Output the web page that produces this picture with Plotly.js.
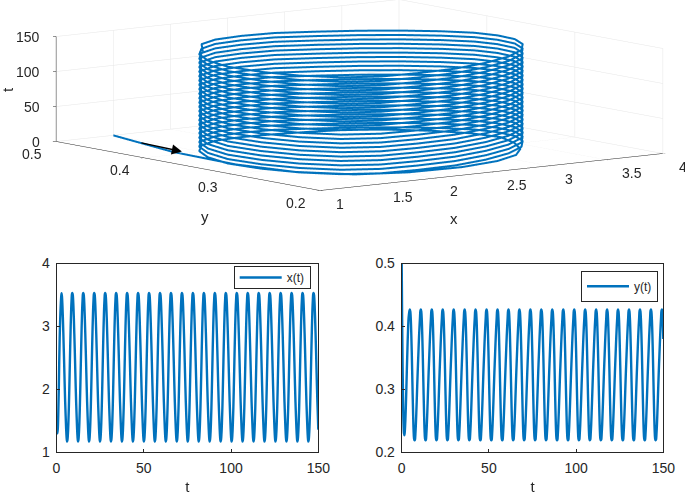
<!DOCTYPE html>
<html><head><meta charset="utf-8">
<script src="https://cdn.plot.ly/plotly-3.0.1.min.js"></script>
<style>html,body{margin:0;padding:0;background:#fff}#c{width:685px;height:495px}</style></head>
<body><div id="c"></div>
<script>
const xTicks3d=[1,1.5,2,2.5,3,3.5,4];
const yTicks3d=[0.2,0.3,0.4,0.5];
const tTicks3d=[0,50,100,150];
const tTicks=[0,50,100,150];
const xTicks=[1,2,3,4];
const yTicks=[0.2,0.3,0.4,0.5];
const t=[
0,.26,.52,.79,1.05,1.31,1.57,1.83,2.09,2.36,2.62,2.88,3.14,3.40,3.67,3.93,4.19,4.45,4.71,4.97,5.24,5.50,5.76,6.02,
6.28,6.54,6.80,7.07,7.33,7.59,7.85,8.11,8.37,8.64,8.90,9.16,9.42,9.68,9.95,10.21,10.47,10.73,10.99,11.25,11.52,11.78,12.04,12.30,
12.57,12.83,13.09,13.36,13.62,13.88,14.14,14.40,14.66,14.93,15.19,15.45,15.71,15.97,16.24,16.50,16.76,17.02,17.28,17.54,17.81,18.07,18.33,18.59,
18.85,19.11,19.37,19.64,19.90,20.16,20.42,20.68,20.94,21.21,21.47,21.73,21.99,22.25,22.52,22.78,23.04,23.30,23.56,23.82,24.09,24.35,24.61,24.87,
25.13,25.39,25.65,25.92,26.18,26.44,26.70,26.96,27.22,27.49,27.75,28.01,28.27,28.53,28.80,29.06,29.32,29.58,29.84,30.10,30.37,30.63,30.89,31.15,
31.42,31.68,31.94,32.21,32.47,32.73,32.99,33.25,33.51,33.78,34.04,34.30,34.56,34.82,35.09,35.35,35.61,35.87,36.13,36.39,36.66,36.92,37.18,37.44,
37.70,37.96,38.22,38.49,38.75,39.01,39.27,39.53,39.79,40.06,40.32,40.58,40.84,41.10,41.37,41.63,41.89,42.15,42.41,42.67,42.94,43.20,43.46,43.72,
43.98,44.24,44.50,44.77,45.03,45.29,45.55,45.81,46.07,46.34,46.60,46.86,47.12,47.38,47.65,47.91,48.17,48.43,48.69,48.95,49.22,49.48,49.74,50.00,
50.27,50.53,50.79,51.06,51.32,51.58,51.84,52.10,52.36,52.63,52.89,53.15,53.41,53.67,53.94,54.20,54.46,54.72,54.98,55.24,55.51,55.77,56.03,56.29,
56.55,56.81,57.07,57.34,57.60,57.86,58.12,58.38,58.64,58.91,59.17,59.43,59.69,59.95,60.22,60.48,60.74,61.00,61.26,61.52,61.79,62.05,62.31,62.57,
62.83,63.09,63.35,63.62,63.88,64.14,64.40,64.66,64.92,65.19,65.45,65.71,65.97,66.23,66.50,66.76,67.02,67.28,67.54,67.80,68.07,68.33,68.59,68.85,
69.12,69.38,69.64,69.91,70.17,70.43,70.69,70.95,71.21,71.48,71.74,72.00,72.26,72.52,72.79,73.05,73.31,73.57,73.83,74.09,74.36,74.62,74.88,75.14,
75.40,75.66,75.92,76.19,76.45,76.71,76.97,77.23,77.49,77.76,78.02,78.28,78.54,78.80,79.07,79.33,79.59,79.85,80.11,80.37,80.64,80.90,81.16,81.42,
81.68,81.94,82.20,82.47,82.73,82.99,83.25,83.51,83.77,84.04,84.30,84.56,84.82,85.08,85.35,85.61,85.87,86.13,86.39,86.65,86.92,87.18,87.44,87.70,
87.96,88.22,88.48,88.75,89.01,89.27,89.53,89.79,90.05,90.32,90.58,90.84,91.10,91.36,91.63,91.89,92.15,92.41,92.67,92.93,93.20,93.46,93.72,93.98,
94.25,94.51,94.77,95.04,95.30,95.56,95.82,96.08,96.34,96.61,96.87,97.13,97.39,97.65,97.92,98.18,98.44,98.70,98.96,99.22,99.49,99.75,100.01,100.27,
100.53,100.79,101.05,101.32,101.58,101.84,102.10,102.36,102.62,102.89,103.15,103.41,103.67,103.93,104.20,104.46,104.72,104.98,105.24,105.50,105.77,106.03,106.29,106.55,
106.81,107.07,107.33,107.60,107.86,108.12,108.38,108.64,108.90,109.17,109.43,109.69,109.95,110.21,110.48,110.74,111.00,111.26,111.52,111.78,112.05,112.31,112.57,112.83,
113.10,113.36,113.62,113.89,114.15,114.41,114.67,114.93,115.19,115.46,115.72,115.98,116.24,116.50,116.77,117.03,117.29,117.55,117.81,118.07,118.34,118.60,118.86,119.12,
119.38,119.64,119.90,120.17,120.43,120.69,120.95,121.21,121.47,121.74,122.00,122.26,122.52,122.78,123.05,123.31,123.57,123.83,124.09,124.35,124.62,124.88,125.14,125.40,
125.66,125.92,126.18,126.45,126.71,126.97,127.23,127.49,127.75,128.02,128.28,128.54,128.80,129.06,129.33,129.59,129.85,130.11,130.37,130.63,130.90,131.16,131.42,131.68,
131.95,132.21,132.47,132.74,133.00,133.26,133.52,133.78,134.04,134.31,134.57,134.83,135.09,135.35,135.62,135.88,136.14,136.40,136.66,136.92,137.19,137.45,137.71,137.97,
138.23,138.49,138.75,139.02,139.28,139.54,139.80,140.06,140.32,140.59,140.85,141.11,141.37,141.63,141.90,142.16,142.42,142.68,142.94,143.20,143.47,143.73,143.99,144.25,
144.51,144.77,145.03,145.30,145.56,145.82,146.08,146.34,146.60,146.87,147.13,147.39,147.65,147.91,148.18,148.44,148.70,148.96,149.22,149.48,149.75,150.00];
const xs=[1.50,1.33,1.30,1.40,1.65,2.00,2.45,2.82,3.10,3.30,3.44,
3.53,3.475,3.33,3.12,2.88,2.62,2.335,2.055,1.80,1.58,1.39,1.25,1.17,1.195,1.29,1.46,1.70,2.00,2.335,2.675,2.98,3.24,3.42,3.52,
3.53,3.475,3.33,3.12,2.88,2.62,2.335,2.055,1.80,1.58,1.39,1.25,1.17,1.195,1.29,1.46,1.70,2.00,2.335,2.675,2.98,3.24,3.42,3.52,
3.53,3.475,3.33,3.12,2.88,2.62,2.335,2.055,1.80,1.58,1.39,1.25,1.17,1.195,1.29,1.46,1.70,2.00,2.335,2.675,2.98,3.24,3.42,3.52,
3.53,3.475,3.33,3.12,2.88,2.62,2.335,2.055,1.80,1.58,1.39,1.25,1.17,1.195,1.29,1.46,1.70,2.00,2.335,2.675,2.98,3.24,3.42,3.52,
3.53,3.475,3.33,3.12,2.88,2.62,2.335,2.055,1.80,1.58,1.39,1.25,1.17,1.195,1.29,1.46,1.70,2.00,2.335,2.675,2.98,3.24,3.42,3.52,
3.53,3.475,3.33,3.12,2.88,2.62,2.335,2.055,1.80,1.58,1.39,1.25,1.17,1.195,1.29,1.46,1.70,2.00,2.335,2.675,2.98,3.24,3.42,3.52,
3.53,3.475,3.33,3.12,2.88,2.62,2.335,2.055,1.80,1.58,1.39,1.25,1.17,1.195,1.29,1.46,1.70,2.00,2.335,2.675,2.98,3.24,3.42,3.52,
3.53,3.475,3.33,3.12,2.88,2.62,2.335,2.055,1.80,1.58,1.39,1.25,1.17,1.195,1.29,1.46,1.70,2.00,2.335,2.675,2.98,3.24,3.42,3.52,
3.53,3.475,3.33,3.12,2.88,2.62,2.335,2.055,1.80,1.58,1.39,1.25,1.17,1.195,1.29,1.46,1.70,2.00,2.335,2.675,2.98,3.24,3.42,3.52,
3.53,3.475,3.33,3.12,2.88,2.62,2.335,2.055,1.80,1.58,1.39,1.25,1.17,1.195,1.29,1.46,1.70,2.00,2.335,2.675,2.98,3.24,3.42,3.52,
3.53,3.475,3.33,3.12,2.88,2.62,2.335,2.055,1.80,1.58,1.39,1.25,1.17,1.195,1.29,1.46,1.70,2.00,2.335,2.675,2.98,3.24,3.42,3.52,
3.53,3.475,3.33,3.12,2.88,2.62,2.335,2.055,1.80,1.58,1.39,1.25,1.17,1.195,1.29,1.46,1.70,2.00,2.335,2.675,2.98,3.24,3.42,3.52,
3.53,3.475,3.33,3.12,2.88,2.62,2.335,2.055,1.80,1.58,1.39,1.25,1.17,1.195,1.29,1.46,1.70,2.00,2.335,2.675,2.98,3.24,3.42,3.52,
3.53,3.475,3.33,3.12,2.88,2.62,2.335,2.055,1.80,1.58,1.39,1.25,1.17,1.195,1.29,1.46,1.70,2.00,2.335,2.675,2.98,3.24,3.42,3.52,
3.53,3.475,3.33,3.12,2.88,2.62,2.335,2.055,1.80,1.58,1.39,1.25,1.17,1.195,1.29,1.46,1.70,2.00,2.335,2.675,2.98,3.24,3.42,3.52,
3.53,3.475,3.33,3.12,2.88,2.62,2.335,2.055,1.80,1.58,1.39,1.25,1.17,1.195,1.29,1.46,1.70,2.00,2.335,2.675,2.98,3.24,3.42,3.52,
3.53,3.475,3.33,3.12,2.88,2.62,2.335,2.055,1.80,1.58,1.39,1.25,1.17,1.195,1.29,1.46,1.70,2.00,2.335,2.675,2.98,3.24,3.42,3.52,
3.53,3.475,3.33,3.12,2.88,2.62,2.335,2.055,1.80,1.58,1.39,1.25,1.17,1.195,1.29,1.46,1.70,2.00,2.335,2.675,2.98,3.24,3.42,3.52,
3.53,3.475,3.33,3.12,2.88,2.62,2.335,2.055,1.80,1.58,1.39,1.25,1.17,1.195,1.29,1.46,1.70,2.00,2.335,2.675,2.98,3.24,3.42,3.52,
3.53,3.475,3.33,3.12,2.88,2.62,2.335,2.055,1.80,1.58,1.39,1.25,1.17,1.195,1.29,1.46,1.70,2.00,2.335,2.675,2.98,3.24,3.42,3.52,
3.53,3.475,3.33,3.12,2.88,2.62,2.335,2.055,1.80,1.58,1.39,1.25,1.17,1.195,1.29,1.46,1.70,2.00,2.335,2.675,2.98,3.24,3.42,3.52,
3.53,3.475,3.33,3.12,2.88,2.62,2.335,2.055,1.80,1.58,1.39,1.25,1.17,1.195,1.29,1.46,1.70,2.00,2.335,2.675,2.98,3.24,3.42,3.52,
3.53,3.475,3.33,3.12,2.88,2.62,2.335,2.055,1.80,1.58,1.39,1.25,1.17,1.195,1.29,1.46,1.70,2.00,2.335,2.675,2.98,3.24,3.42,3.52,
3.53,3.475,3.33,3.12,2.88,2.62,2.335,2.055,1.80,1.58,1.36];
const ys=[.5,.41,.335,.28,.245,.23,.227,.235,.25,.271,.296,.323,.35,.375,.397,.413,.42,
.425,.427,.423,.41,.388,.36,.327,.292,.261,.236,.222,.219,.22,.229,.243,.262,.284,.306,.327,.346,.365,.384,.4,.413,
.425,.427,.423,.41,.388,.36,.327,.292,.261,.236,.222,.219,.22,.229,.243,.262,.284,.306,.327,.346,.365,.384,.4,.413,
.425,.427,.423,.41,.388,.36,.327,.292,.261,.236,.222,.219,.22,.229,.243,.262,.284,.306,.327,.346,.365,.384,.4,.413,
.425,.427,.423,.41,.388,.36,.327,.292,.261,.236,.222,.219,.22,.229,.243,.262,.284,.306,.327,.346,.365,.384,.4,.413,
.425,.427,.423,.41,.388,.36,.327,.292,.261,.236,.222,.219,.22,.229,.243,.262,.284,.306,.327,.346,.365,.384,.4,.413,
.425,.427,.423,.41,.388,.36,.327,.292,.261,.236,.222,.219,.22,.229,.243,.262,.284,.306,.327,.346,.365,.384,.4,.413,
.425,.427,.423,.41,.388,.36,.327,.292,.261,.236,.222,.219,.22,.229,.243,.262,.284,.306,.327,.346,.365,.384,.4,.413,
.425,.427,.423,.41,.388,.36,.327,.292,.261,.236,.222,.219,.22,.229,.243,.262,.284,.306,.327,.346,.365,.384,.4,.413,
.425,.427,.423,.41,.388,.36,.327,.292,.261,.236,.222,.219,.22,.229,.243,.262,.284,.306,.327,.346,.365,.384,.4,.413,
.425,.427,.423,.41,.388,.36,.327,.292,.261,.236,.222,.219,.22,.229,.243,.262,.284,.306,.327,.346,.365,.384,.4,.413,
.425,.427,.423,.41,.388,.36,.327,.292,.261,.236,.222,.219,.22,.229,.243,.262,.284,.306,.327,.346,.365,.384,.4,.413,
.425,.427,.423,.41,.388,.36,.327,.292,.261,.236,.222,.219,.22,.229,.243,.262,.284,.306,.327,.346,.365,.384,.4,.413,
.425,.427,.423,.41,.388,.36,.327,.292,.261,.236,.222,.219,.22,.229,.243,.262,.284,.306,.327,.346,.365,.384,.4,.413,
.425,.427,.423,.41,.388,.36,.327,.292,.261,.236,.222,.219,.22,.229,.243,.262,.284,.306,.327,.346,.365,.384,.4,.413,
.425,.427,.423,.41,.388,.36,.327,.292,.261,.236,.222,.219,.22,.229,.243,.262,.284,.306,.327,.346,.365,.384,.4,.413,
.425,.427,.423,.41,.388,.36,.327,.292,.261,.236,.222,.219,.22,.229,.243,.262,.284,.306,.327,.346,.365,.384,.4,.413,
.425,.427,.423,.41,.388,.36,.327,.292,.261,.236,.222,.219,.22,.229,.243,.262,.284,.306,.327,.346,.365,.384,.4,.413,
.425,.427,.423,.41,.388,.36,.327,.292,.261,.236,.222,.219,.22,.229,.243,.262,.284,.306,.327,.346,.365,.384,.4,.413,
.425,.427,.423,.41,.388,.36,.327,.292,.261,.236,.222,.219,.22,.229,.243,.262,.284,.306,.327,.346,.365,.384,.4,.413,
.425,.427,.423,.41,.388,.36,.327,.292,.261,.236,.222,.219,.22,.229,.243,.262,.284,.306,.327,.346,.365,.384,.4,.413,
.425,.427,.423,.41,.388,.36,.327,.292,.261,.236,.222,.219,.22,.229,.243,.262,.284,.306,.327,.346,.365,.384,.4,.413,
.425,.427,.423,.41,.388,.36,.327,.292,.261,.236,.222,.219,.22,.229,.243,.262,.284,.306,.327,.346,.365,.384,.4,.413,
.425,.427,.423,.41,.388,.36,.327,.292,.261,.236,.222,.219,.22,.229,.243,.262,.284,.306,.327,.346,.365,.384,.4,.413,
.425,.427,.423,.41,.38];

const BLUE='#0072BD', INK='#262626', FONT='"Liberation Sans",Arial,sans-serif';
const W=685,H=495;
const camEye={x:-3.125,y:-3.893,z:.409}, camCenter={x:-.1252,y:.0419,z:-.2985};
const sceneAnn=[];
const lab=(x,y,z,text,xanchor,xshift,yshift)=>sceneAnn.push({x,y,z,text:String(text),showarrow:false,xanchor,yanchor:'middle',xshift,yshift,font:{family:FONT,size:14,color:INK}});
xTicks3d.forEach(v=>lab(v,.2,0,v,'left',14,-13));
yTicks3d.forEach(v=>lab(1,v,0,v.toFixed(1),'center',-24,-12.5));
tTicks3d.forEach(v=>lab(1,.5,v,v,'right',-14,0));
sceneAnn.push({x:1.4,y:.409,z:0,text:'',showarrow:true,ax:-42,ay:-9,arrowhead:2,arrowsize:1.35,arrowwidth:1.5,arrowcolor:'#000'});

const ax3={showbackground:false,showspikes:false,zeroline:false,showticklabels:false,title:{text:''},gridcolor:'#e6e6e6',gridwidth:1,showline:true,linecolor:INK,linewidth:1,ticks:'outside',ticklen:4,tickcolor:INK,tickwidth:1};
const ax2={showline:true,mirror:true,linecolor:INK,linewidth:1,ticks:'inside',ticklen:3,tickcolor:INK,showgrid:false,zeroline:false,ticklabelstandoff:3,tickfont:{family:FONT,size:14,color:INK}};
const leg=(x,y)=>({x,y,xref:'paper',yref:'paper',xanchor:'right',yanchor:'top',bgcolor:'#fff',bordercolor:INK,borderwidth:1,font:{family:FONT,size:12,color:INK},itemwidth:42});
const ann=(x,y,text,extra)=>({xref:'paper',yref:'paper',x:x/W,y:1-y/H,xanchor:'center',yanchor:'middle',text,showarrow:false,font:{family:FONT,size:15,color:INK},...extra});
const tTitle={text:'t',standoff:7,font:{family:FONT,size:15,color:INK}};
const layout={width:W,height:H,margin:{l:0,r:0,t:0,b:0},paper_bgcolor:'#fff',showlegend:true,
 scene:{domain:{x:[0,1],y:[.45,1]},aspectmode:'manual',aspectratio:{x:3.17,y:3.2,z:.78},
  camera:{projection:{type:'orthographic'},up:{x:0,y:0,z:1},center:camCenter,eye:camEye},
  xaxis:{...ax3,range:[1,4],tickvals:xTicks3d},yaxis:{...ax3,range:[.2,.5],tickvals:yTicks3d},zaxis:{...ax3,range:[0,150],tickvals:tTicks3d},annotations:sceneAnn},
 xaxis:{...ax2,domain:[56.5/W,318.3/W],range:[0,150],tickvals:tTicks,title:tTitle,anchor:'y'},
 yaxis:{...ax2,domain:[1-452.3/H,1-263.5/H],range:[1,4],tickvals:xTicks,anchor:'x'},
 xaxis2:{...ax2,domain:[401.7/W,663.3/W],range:[0,150],tickvals:tTicks,title:tTitle,anchor:'y2'},
 yaxis2:{...ax2,domain:[1-452.3/H,1-263.5/H],range:[.2,.5],tickvals:yTicks,tickformat:'.1f',anchor:'x2'},
 legend:leg(310.7/W,1-266/H),legend2:leg(658/W,1-270.7/H),
 annotations:[ann(454,219,'x'),ann(205,217,'y'),ann(7,90,'t',{textangle:-90})]};
const data=[
 {type:'scatter3d',mode:'lines',x:xs,y:ys,z:t,line:{color:BLUE,width:4},showlegend:false,hoverinfo:'skip'},
 {type:'scatter',mode:'lines',x:t,y:xs,xaxis:'x',yaxis:'y',name:'x(t)',line:{color:BLUE,width:2.4,shape:'spline'},legend:'legend'},
 {type:'scatter',mode:'lines',x:t,y:ys,xaxis:'x2',yaxis:'y2',name:'y(t)',line:{color:BLUE,width:2.4,shape:'spline'},legend:'legend2'}
];
Plotly.newPlot('c',data,layout,{displayModeBar:false}).then(()=>{
 document.querySelectorAll('#c .legend').forEach(g=>{
  const bg=g.querySelector('rect.bg'); if(bg) bg.setAttribute('height',22);
  const sb=g.querySelector('.scrollbox'); if(sb) sb.setAttribute('transform','translate(0,-4)');
 });
});
</script></body></html>
